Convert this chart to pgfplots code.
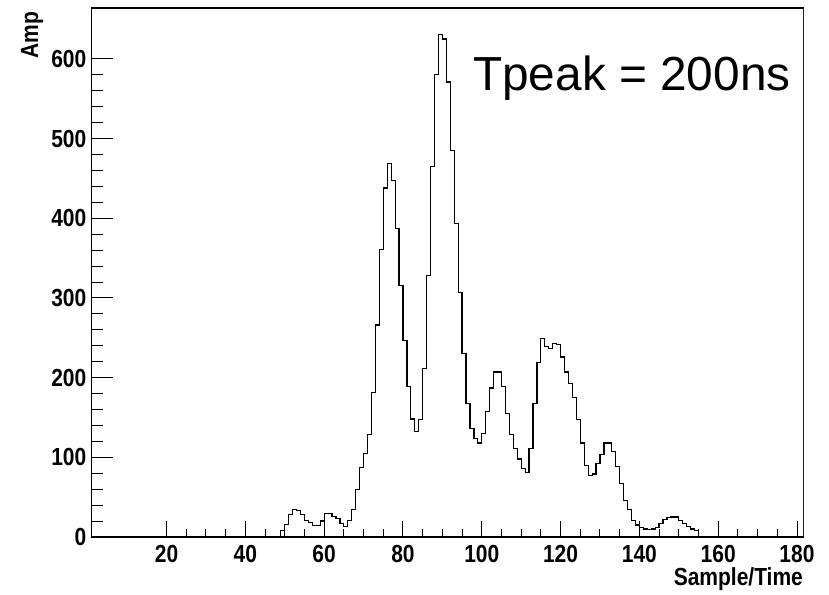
\documentclass[border=0pt]{standalone}
\usepackage{pgfplots}
\usepackage{pgfplotstable}
\pgfplotsset{compat=1.18}
\usepackage{fontspec}
\setmainfont{Liberation Sans}
\newfontfamily\rootfont[FakeStretch=0.85]{Liberation Sans}

\pgfplotstableread{
x y
49 0
49 8
50 16
51 28
52 35
53 33
54 28
55 21
56 18
57 14
58 14
59 20
60 29
61 30
62 26
63 23
64 17
65 13
66 21
67 35
68 60
69 87
70 105
71 129
72 181
73 266
74 361
75 438
76 469
77 447
78 387
79 316
80 247
81 189
82 148
83 132
84 147
85 212
86 328
87 465
88 581
89 631
90 625
91 571
92 485
93 394
94 307
95 230
96 168
97 136
98 124
99 118
100 130
101 158
102 187
103 207
104 207
105 189
106 155
107 129
108 111
109 98
110 86
111 81
112 111
113 168
114 219
115 249
116 239
117 237
118 243
119 242
120 226
121 207
122 193
123 175
124 147
125 118
126 90
127 77
128 79
129 92
130 104
131 118
132 118
133 107
134 88
135 67
136 46
137 35
138 21
139 15
140 12
141 10
142 9
143 10
144 12
145 17
146 22
147 24
148 25
149 25
150 21
151 17
152 13
153 10
154 8
155 0
}\histdata

\begin{document}
\begin{tikzpicture}
\begin{axis}[
  name=main,
  scale only axis,
  width=355.8pt, height=264.5pt,
  xmin=1, xmax=181.6, ymin=0, ymax=664,
  axis line style={line width=0.6pt, black},
  tick align=inside,
  ytick pos=left,
  ytick={0,100,...,600},
  minor y tick num=4,
  xtick=\empty,
  major tick length=10.8pt, minor tick length=5.4pt,
  tick style={black, line width=0.5pt},
  yticklabel style={font=\rootfont\bfseries\fontsize{12.35}{14}\selectfont, inner sep=0pt, xshift=-2.5pt},
  /pgf/number format/assume math mode=true,
  ylabel={Amp},
  ylabel style={font=\rootfont\bfseries\fontsize{12.35}{14}\selectfont, inner sep=0pt,
    at={(axis description cs:-0.0675,0.994)}, anchor=south east},
]
\addplot[const plot, black, line width=0.6pt] table[x=x, y=y] {\histdata};
\node[anchor=base west, inner sep=0pt, font=\fontsize{23.9}{28}\selectfont] at (axis cs:97.7,560) {Tpeak = 200ns};
\draw[red, line width=0.5pt] (rel axis cs:1,0) -- (rel axis cs:1,1);
\end{axis}
\begin{axis}[
  scale only axis,
  width=355.8pt, height=264.5pt,
  xmin=1, xmax=181.6, ymin=0, ymax=664,
  axis line style={draw=none},
  tick align=inside,
  xtick pos=left,
  xtick={20,40,...,180},
  minor x tick num=3,
  ytick=\empty,
  major tick length=8pt, minor tick length=3.8pt,
  tick style={black, line width=0.5pt},
  xticklabel style={font=\rootfont\bfseries\fontsize{12.35}{14}\selectfont, inner sep=0pt, yshift=-4pt},
  /pgf/number format/assume math mode=true,
  xlabel={Sample/Time},
  xlabel style={font=\rootfont\bfseries\fontsize{12.35}{14}\selectfont, inner sep=0pt,
    at={(axis description cs:1,-0.058)}, anchor=north east},
]
\end{axis}
\path (main.south west) ++(-45.85pt,-28.5pt);
\path (main.north east) ++(12.85pt,4pt);
\end{tikzpicture}
\end{document}
